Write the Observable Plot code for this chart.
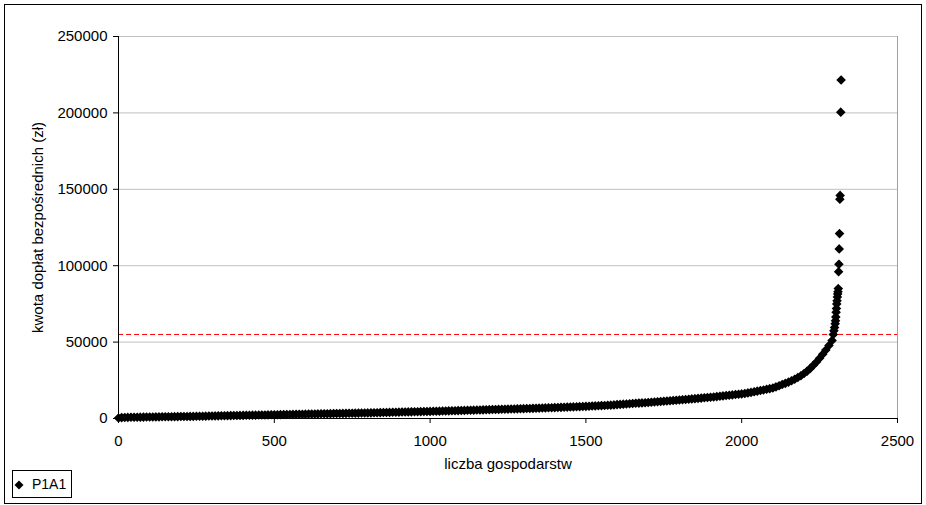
<!DOCTYPE html>
<html>
<head>
<meta charset="utf-8">
<script src="https://cdn.jsdelivr.net/npm/d3@7"></script>
<script src="https://cdn.jsdelivr.net/npm/@observablehq/plot@0.6"></script>
<style>
  html, body { margin: 0; padding: 0; background: #fff; }
  #wrap { position: relative; width: 926px; height: 505px; overflow: hidden; font-family: "Liberation Sans", Arial, sans-serif; }
  #wrap svg { position: absolute; left: 0; top: 0; }
  #frame { position: absolute; left: 4px; top: 4px; width: 916px; height: 498px; border: 1px solid #000; box-sizing: content-box; pointer-events: none; }
  #legend { position: absolute; left: 12px; top: 470px; width: 58px; height: 26px; border: 1px solid #000; background: #fff; font-size: 14px; color: #000; }
  #legend svg { position: absolute; left: 1px; top: 9px; }
  #legend span { position: absolute; left: 19px; top: 5px; }
</style>
</head>
<body>
<div id="wrap">
  <div id="chart"></div>
  <div id="legend"><svg width="10" height="10" viewBox="0 0 10 10"><path d="M5,0.5L9.5,5L5,9.5L0.5,5Z" fill="#000"/></svg><span id="legendText"></span></div>
  <div id="frame"></div>
</div>
<script>
// ---- data ----
const xTicks = [0, 500, 1000, 1500, 2000, 2500];
const yTicks = [0, 50000, 100000, 150000, 200000, 250000];
const xLabel = "liczba gospodarstw";
const yLabel = "kwota dopłat bezpośrednich (zł)";
const seriesName = "P1A1";
const threshold = 55000;

// sorted payments, one reading every 10 farms (rank 0, 10, 20, ... 2290)
const bodyStep = 10;
const bodyValues = [
  300, 600, 700, 750, 800, 830, 860, 890, 920, 950,
  980, 1010, 1040, 1070, 1100, 1130, 1160, 1190, 1220, 1250,
  1280, 1310, 1340, 1370, 1400, 1430, 1460, 1500, 1550, 1600,
  1660, 1700, 1740, 1780, 1820, 1860, 1900, 1940, 1980, 2020,
  2060, 2100, 2140, 2180, 2220, 2260, 2300, 2340, 2380, 2420,
  2460, 2500, 2540, 2580, 2620, 2660, 2700, 2740, 2780, 2820,
  2860, 2900, 2940, 2980, 3020, 3060, 3100, 3140, 3180, 3220,
  3260, 3300, 3340, 3380, 3420, 3460, 3500, 3540, 3580, 3620,
  3660, 3710, 3760, 3810, 3860, 3910, 3960, 4010, 4060, 4110,
  4160, 4210, 4260, 4310, 4360, 4410, 4460, 4510, 4560, 4610,
  4660, 4710, 4760, 4820, 4880, 4940, 5000, 5060, 5120, 5180,
  5240, 5300, 5360, 5420, 5480, 5540, 5600, 5660, 5720, 5780,
  5840, 5900, 5960, 6020, 6080, 6140, 6200, 6260, 6320, 6380,
  6440, 6510, 6580, 6650, 6720, 6790, 6860, 6930, 7000, 7070,
  7140, 7220, 7300, 7380, 7460, 7540, 7620, 7700, 7780, 7860,
  7950, 8050, 8150, 8250, 8350, 8450, 8550, 8650, 8750, 8900,
  9100, 9240, 9380, 9520, 9660, 9800, 9940, 10080, 10220, 10360,
  10500, 10660, 10820, 10980, 11140, 11300, 11460, 11620, 11780, 11940,
  12100, 12280, 12460, 12640, 12820, 13000, 13180, 13360, 13540, 13720,
  13900, 14120, 14340, 14560, 14780, 15000, 15220, 15440, 15660, 15880,
  16100, 16400, 16750, 17100, 17500, 17900, 18300, 18700, 19100, 19550,
  20000, 20700, 21400, 22200, 23000, 23800, 24700, 25700, 26800, 28000,
  29400, 31000, 32800, 34800, 37000, 39400, 42000, 44800, 47800, 51000
];

// the largest farms, read individually
const tailRanks  = [2294, 2296, 2298, 2300, 2301, 2302, 2303, 2304, 2305, 2306, 2307, 2308, 2309, 2310, 2311, 2312, 2313, 2314, 2315, 2316, 2318, 2319];
const tailValues = [55000, 57500, 59500, 62000, 64000, 66500, 69500, 72000, 75000, 77000, 79500, 81500, 83000, 85000, 96000, 101000, 111000, 121000, 143500, 146000, 200500, 221500];

// ---- build table ----
const points = bodyValues.map((v, i) => ({rank: i * bodyStep, value: v}))
  .concat(tailRanks.map((r, i) => ({rank: r, value: tailValues[i]})));

const chart = Plot.plot({
  width: 926,
  height: 480,
  marginLeft: 118,
  marginRight: 29,
  marginTop: 36,
  marginBottom: 62,
  style: {fontFamily: "'Liberation Sans', Arial, sans-serif", fontSize: "15px", color: "#000", background: "transparent", overflow: "visible"},
  x: {domain: [xTicks[0], xTicks[xTicks.length - 1]], ticks: xTicks, tickSize: 5, tickPadding: 12, tickFormat: d => String(d), label: null},
  y: {domain: [yTicks[0], yTicks[yTicks.length - 1]], ticks: yTicks, tickSize: 5, tickPadding: 6, tickFormat: d => String(d), label: null},
  marks: [
    Plot.ruleY(yTicks, {stroke: "#c0c0c0", strokeWidth: 1}),
    Plot.ruleX([xTicks[xTicks.length - 1]], {stroke: "#a0a0a0", strokeWidth: 1}),
    Plot.ruleY([threshold], {stroke: "#ff0000", strokeWidth: 1, strokeDasharray: "5,3"}),
    Plot.ruleX([xTicks[0]], {stroke: "#000", strokeWidth: 1}),
    Plot.ruleY([yTicks[0]], {stroke: "#000", strokeWidth: 1}),
    Plot.dot(points, {x: "rank", y: "value", symbol: "diamond2", r: 3.3, fill: "#000", stroke: "#000", strokeWidth: 1.6}),
    Plot.text([xLabel], {frameAnchor: "bottom", dy: 50, text: d => d, fill: "#000"}),
    Plot.text([yLabel], {frameAnchor: "left", textAnchor: "middle", dx: -80, rotate: -90, text: d => d, fill: "#000"})
  ]
});
document.getElementById("chart").appendChild(chart);
document.getElementById("legendText").textContent = seriesName;
</script>
</body>
</html>
